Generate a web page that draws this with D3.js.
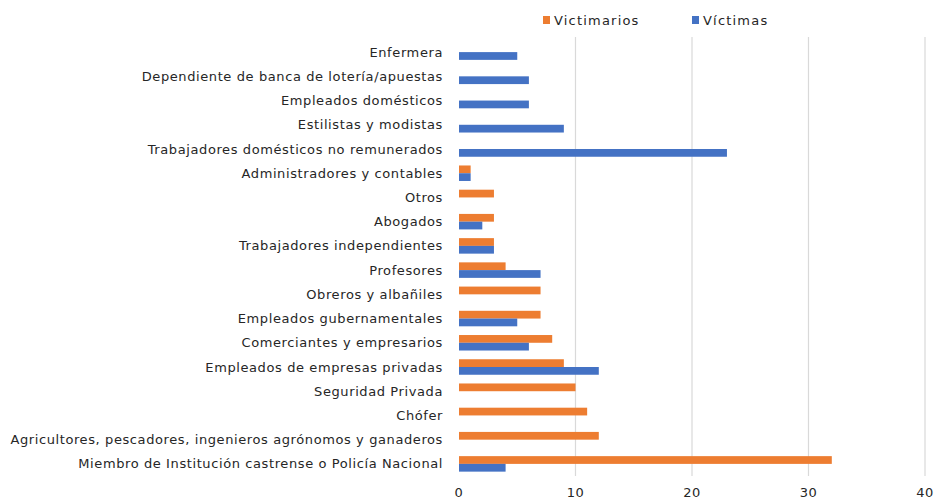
<!DOCTYPE html>
<html>
<head>
<meta charset="utf-8">
<script src="https://cdn.jsdelivr.net/npm/d3@7"></script>
<style>
  body { margin: 0; background: #fff; }
  svg { display: block; font-family: "DejaVu Sans", sans-serif; }
</style>
</head>
<body>
<div id="chart"></div>
<script>
// categorias de arriba hacia abajo
var categories = [
  "Enfermera",
  "Dependiente de banca de lotería/apuestas",
  "Empleados domésticos",
  "Estilistas y modistas",
  "Trabajadores domésticos no remunerados",
  "Administradores y contables",
  "Otros",
  "Abogados",
  "Trabajadores independientes",
  "Profesores",
  "Obreros y albañiles",
  "Empleados gubernamentales",
  "Comerciantes y empresarios",
  "Empleados de empresas privadas",
  "Seguridad Privada",
  "Chófer",
  "Agricultores, pescadores, ingenieros agrónomos y ganaderos",
  "Miembro de Institución castrense o Policía Nacional"
];
var victimarios = [0, 0, 0, 0, 0, 1, 3, 3, 3, 4, 7, 7, 8, 9, 10, 11, 12, 32];
var victimas    = [5, 6, 6, 9, 23, 1, 0, 2, 3, 7, 0, 5, 6, 12, 0, 0, 0, 4];
var ticks = [0, 10, 20, 30, 40];
var seriesNames = ["Victimarios", "Víctimas"];
var colors = ["#ed7d31", "#4472c4"];

var width = 936, height = 502;
var margin = {top: 40, right: 11, bottom: 26, left: 459};

var svg = d3.select("#chart").append("svg")
    .attr("width", width)
    .attr("height", height);

var x = d3.scaleLinear()
    .domain([0, 40])
    .range([margin.left, width - margin.right]);

var y = d3.scaleBand()
    .domain(categories)
    .range([margin.top, height - margin.bottom])
    .paddingInner(0.36)
    .paddingOuter(0.18);

var sub = d3.scaleBand()
    .domain(seriesNames)
    .range([0, y.bandwidth()]);

// lineas de la grilla
svg.append("g")
    .selectAll("line")
    .data(ticks.slice(1))
    .enter().append("line")
    .attr("x1", function(d) { return x(d); })
    .attr("x2", function(d) { return x(d); })
    .attr("y1", margin.top - 3)
    .attr("y2", height - margin.bottom)
    .attr("stroke", "#d9d9d9")
    .attr("stroke-width", 1.2);

// barras
var rows = categories.map(function(c, i) {
  return {cat: c, vals: [victimarios[i], victimas[i]]};
});

var g = svg.append("g")
    .selectAll("g")
    .data(rows)
    .enter().append("g")
    .attr("transform", function(d) { return "translate(0," + y(d.cat) + ")"; });

g.selectAll("rect")
    .data(function(d) { return d.vals.map(function(v, k) { return {k: k, v: v}; }); })
    .enter().append("rect")
    .attr("x", x(0))
    .attr("y", function(d) { return sub(seriesNames[d.k]); })
    .attr("width", function(d) { return x(d.v) - x(0); })
    .attr("height", sub.bandwidth())
    .attr("fill", function(d) { return colors[d.k]; });

// etiquetas de categoria
svg.append("g")
    .selectAll("text")
    .data(categories)
    .enter().append("text")
    .attr("x", margin.left - 16)
    .attr("y", function(d) { return y(d) + y.bandwidth() / 2; })
    .attr("dy", "0.35em")
    .attr("text-anchor", "end")
    .style("font-size", "13px")
    .style("letter-spacing", "0.6px")
    .style("fill", "#262626")
    .text(function(d) { return d; });

// eje x
svg.append("g")
    .selectAll("text")
    .data(ticks)
    .enter().append("text")
    .attr("x", function(d) { return x(d); })
    .attr("y", height - 5)
    .attr("text-anchor", "middle")
    .style("font-size", "13px")
    .style("letter-spacing", "0.6px")
    .style("fill", "#262626")
    .text(function(d) { return d; });

// leyenda
var legX = [543, 692];
var leg = svg.append("g")
    .selectAll("g")
    .data(seriesNames)
    .enter().append("g")
    .attr("transform", function(d, i) { return "translate(" + legX[i] + ",16)"; });

leg.append("rect")
    .attr("width", 7)
    .attr("height", 8)
    .attr("fill", function(d, i) { return colors[i]; });

leg.append("text")
    .attr("x", 11)
    .attr("y", 4)
    .attr("dy", "0.35em")
    .style("font-size", "13px")
    .style("letter-spacing", "1.2px")
    .style("fill", "#262626")
    .text(function(d) { return d; });
</script>
</body>
</html>
